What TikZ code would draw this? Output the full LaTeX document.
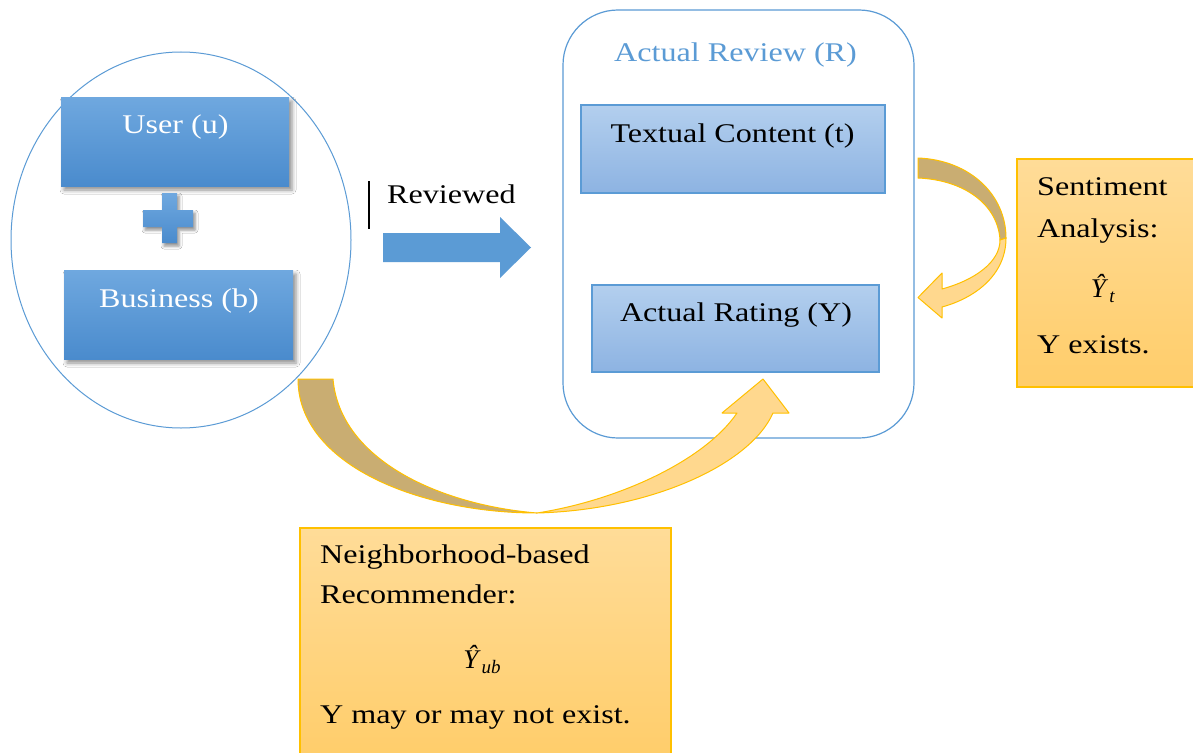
\documentclass[tikz,border=0pt]{standalone}
\usepackage{fontspec}
\setmainfont{Liberation Serif}
\usetikzlibrary{shapes.geometric,shadows.blur}
\definecolor{accblue}{HTML}{5B9BD5}
\definecolor{dtop}{HTML}{6FA8DF}
\definecolor{dbot}{HTML}{4A8BCD}
\definecolor{ltop}{HTML}{B3CFEE}
\definecolor{lbot}{HTML}{8DB3E2}
\definecolor{otop}{HTML}{FFDC98}
\definecolor{obot}{HTML}{FFCD6A}
\definecolor{oline}{HTML}{FFC000}
\definecolor{khaki}{HTML}{C9AD72}
\definecolor{lorange}{HTML}{FFD88E}
\newcommand\sx[1]{\scalebox{1.19}[1]{#1}}
\newcommand\yhat[1]{\textit{Ŷ}\kern1pt\raisebox{-5pt}{\fontsize{19}{20}\selectfont\textit{#1}}}
\tikzset{
  txt/.style={inner sep=0pt, font=\fontsize{27}{32}\selectfont},
  darkbox/.style={draw=none, top color=dtop, bottom color=dbot, inner sep=0pt,
    blur shadow={shadow xshift=3pt, shadow yshift=-4pt, shadow blur radius=4pt, shadow opacity=45}},
  lightbox/.style={draw=accblue, line width=1.2pt, top color=ltop, bottom color=lbot, inner sep=0pt},
  orangebox/.style={draw=oline, line width=1.2pt, top color=otop, bottom color=obot, inner sep=0pt},
  bandback/.style={fill=khaki, draw=oline, line width=1pt, line join=round},
  bandfront/.style={fill=lorange, draw=oline, line width=1pt, line join=round},
}
\begin{document}
\begin{tikzpicture}[x=1pt,y=-1pt]
\useasboundingbox (0,0) rectangle (1193,752);
\clip (0,0) rectangle (1193,752);
\fill[white] (0,0) rectangle (1193,752);

% left ellipse with user + business
\node[ellipse, draw=accblue, line width=1pt, minimum width=340pt, minimum height=376pt, inner sep=0pt] (grp) at (181,240) {};
\node[darkbox, minimum width=228pt, minimum height=89pt] (user) at (175,141.5) {};
\node[darkbox, minimum width=229pt, minimum height=89pt] (bus) at (178.5,314.5) {};
\node[txt, text=white, anchor=base] (usert) at (175.5,133) {\sx{User (u)}};
\node[txt, text=white, anchor=base] (bust) at (179,307) {\sx{Business (b)}};
\path[top color=dtop, bottom color=dbot,
  blur shadow={shadow xshift=2pt, shadow yshift=-3pt, shadow blur radius=3pt, shadow opacity=45}]
  (162,193) -- (177,193) -- (177,210) -- (193,210) -- (193,227) -- (177,227) -- (177,243)
  -- (162,243) -- (162,227) -- (143,227) -- (143,210) -- (162,210) -- cycle;

% reviewed arrow
\coordinate (cur1) at (369,181);
\coordinate (cur2) at (369,229);
\draw[line width=1.4pt] (cur1) -- (cur2);
\node[txt, anchor=base west] (revt) at (387,203) {\sx{Reviewed}};
\fill[accblue] (383,233) -- (500,233) -- (500,217) -- (531,247.5) -- (500,278) -- (500,262) -- (383,262) -- cycle;

% actual review
\node[draw=accblue, line width=1.2pt, rounded corners=55pt, minimum width=351pt, minimum height=428pt, inner sep=0pt] (rev) at (738.5,224) {};
\node[txt, text=accblue, anchor=base] (revtitle) at (735.5,62) {\sx{Actual Review (R)}};
\node[lightbox, minimum width=304pt, minimum height=88pt] (tc) at (733,149) {};
\node[txt, anchor=base] (tct) at (732.5,142) {\sx{Textual Content (t)}};
\node[lightbox, minimum width=287pt, minimum height=87pt] (ar) at (735.5,328.5) {};
\node[txt, anchor=base] (art) at (736,321) {\sx{Actual Rating (Y)}};

% sentiment analysis
\node[orangebox, minimum width=183pt, minimum height=228pt] (sa) at (1108.5,273) {};
\node[txt, anchor=base west] (sa1) at (1037,195) {\sx{Sentiment}};
\node[txt, anchor=base west] (sa2) at (1037,237) {\sx{Analysis:}};
\node[txt, anchor=base] (sa3) at (1103,297) {\yhat{t}};
\node[txt, anchor=base west] (sa4) at (1037,353) {\sx{Y exists.}};

% neighborhood
\node[orangebox, minimum width=371pt, minimum height=232pt] (nb) at (485.5,644) {};
\node[txt, anchor=base west] (nb1) at (320,563) {\sx{Neighborhood-based}};
\node[txt, anchor=base west] (nb2) at (320,603) {\sx{Recommender:}};
\node[txt, anchor=base] (nb3) at (482,668) {\yhat{ub}};
\node[txt, anchor=base west] (nb4) at (320,723) {\sx{Y may or may not exist.}};

% right curved arrow (textual content -> rating)
\draw[bandback] (918,158) .. controls (970,160) and (1006,195) .. (1006,238)
  -- (1000,240) .. controls (998,205) and (965,180) .. (918,178) -- cycle;
\draw[bandfront] (1006,238) .. controls (1006,275) and (975,298) .. (942,307)
  -- (942,318) -- (918,297.5) -- (942,273) -- (942,289)
  .. controls (975,280) and (1000,262) .. (1000,240) -- cycle;

% bottom curved arrow (user+business -> rating)
\draw[bandback] (298,379) .. controls (298,465) and (420,513) .. (537,513)
  .. controls (440,505) and (340,460) .. (333,379) -- cycle;
\draw[bandfront] (537,513) .. controls (650,510) and (750,465) .. (773,413)
  -- (789,413) -- (763,379) -- (722,413) -- (737,413)
  .. controls (705,460) and (620,500) .. (537,513) -- cycle;
\end{tikzpicture}
\end{document}
